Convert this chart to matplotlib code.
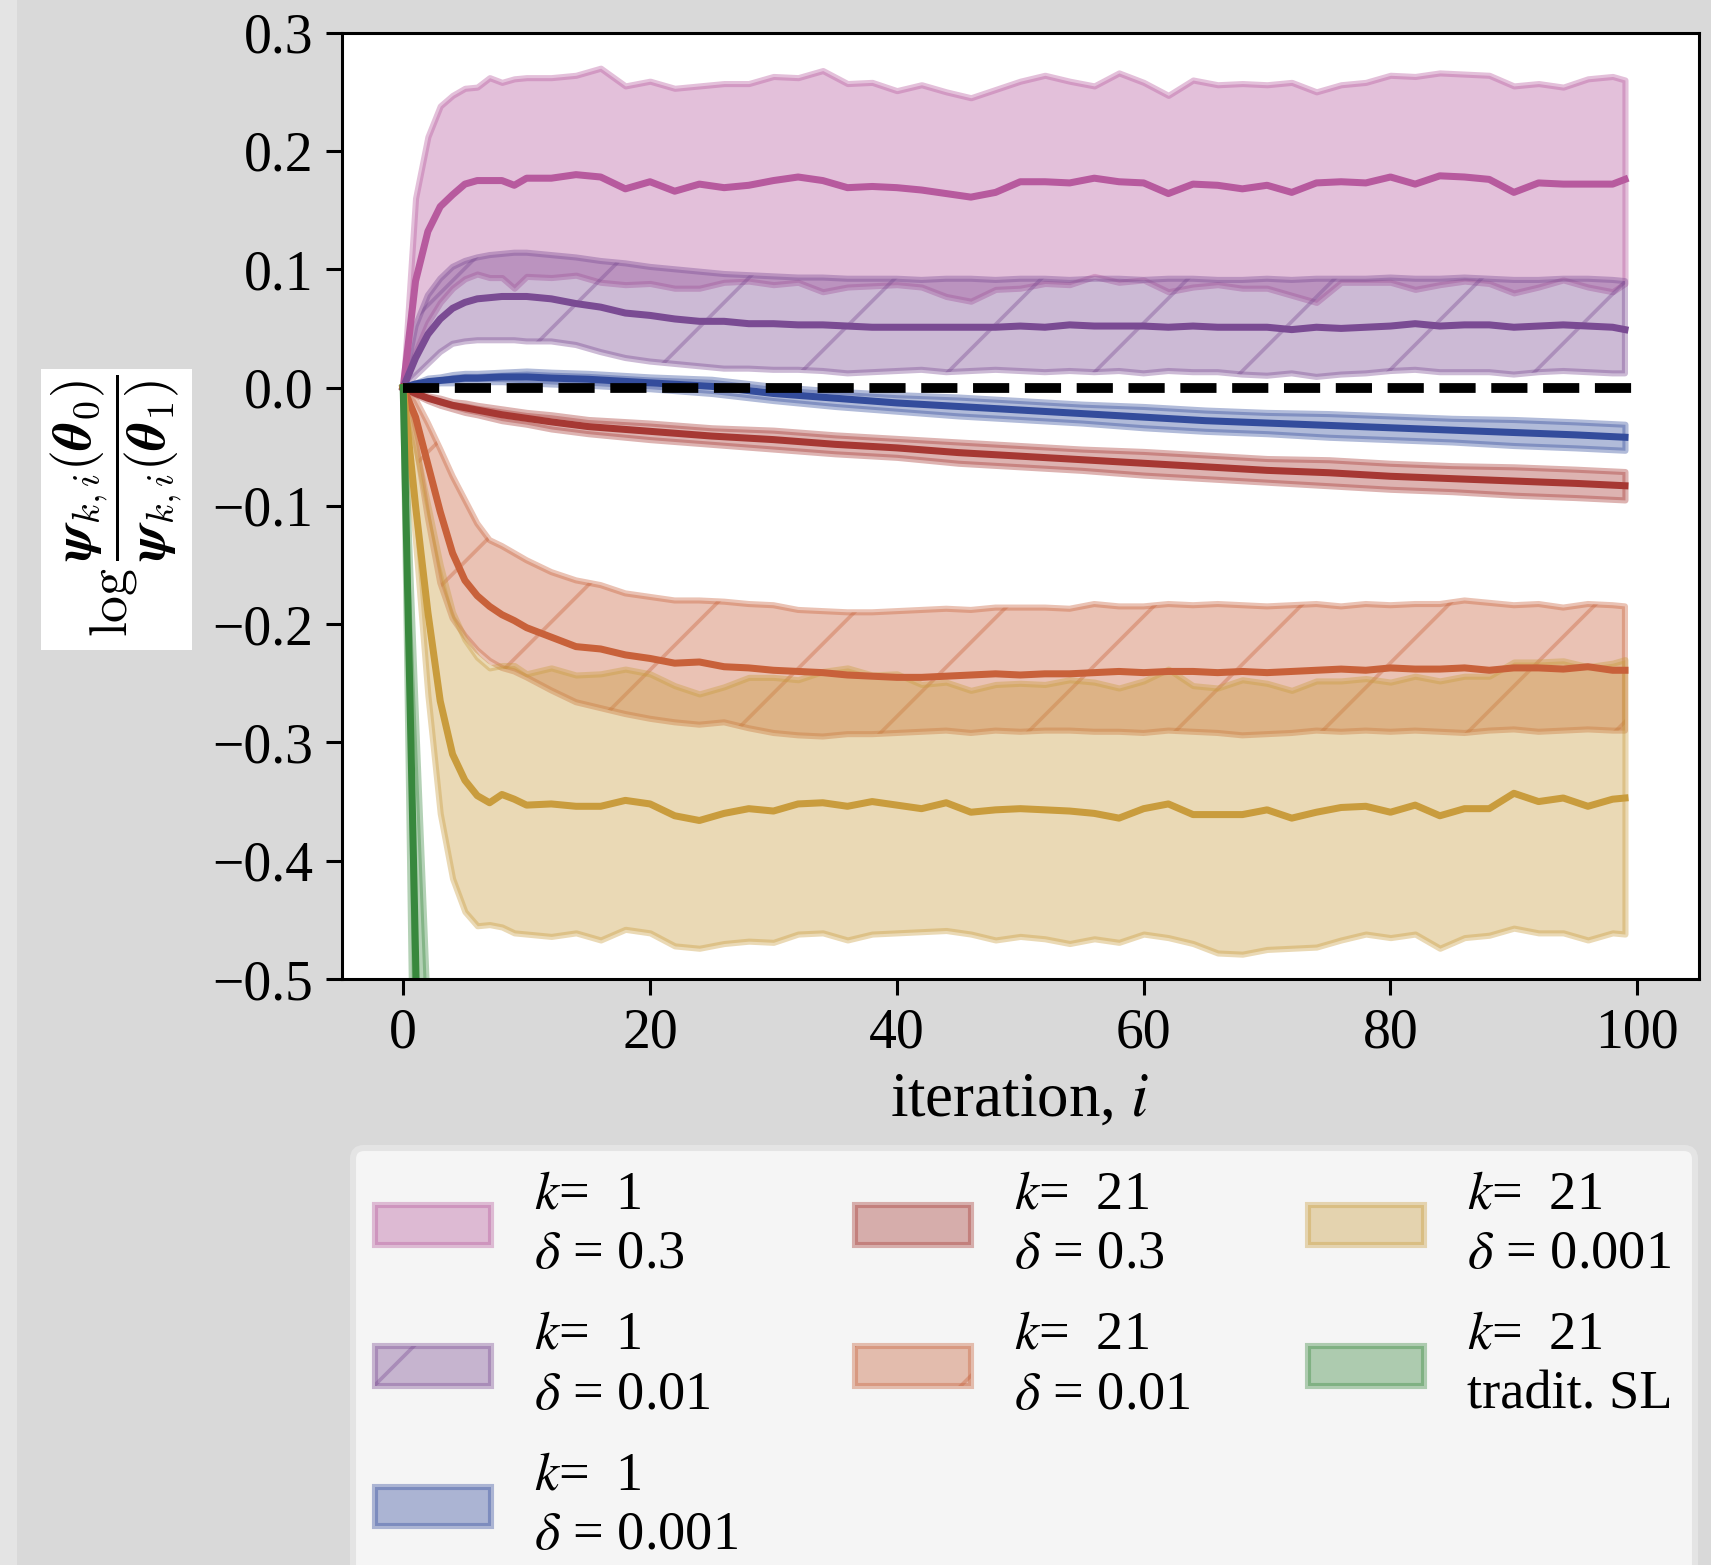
import numpy as np
import matplotlib
matplotlib.use("Agg")
import matplotlib.pyplot as plt
from matplotlib.patches import Rectangle

# iterations used for the noisy runs
iters = [0, 1, 2, 3, 4, 5, 6, 7, 8, 9, 10, 12, 14, 16, 18, 20, 22, 24, 26, 28,
         30, 32, 34, 36, 38, 40, 42, 44, 46, 48, 50, 52, 54, 56, 58, 60, 62, 64,
         66, 68, 70, 72, 74, 76, 78, 80, 82, 84, 86, 88, 90, 92, 94, 96, 98, 99]
# iterations used for the smooth runs
iters_smooth = [0, 1, 2, 3, 4, 5, 6, 8, 10, 12, 15, 20, 25, 30, 35, 40, 45, 50,
                55, 60, 65, 70, 75, 80, 85, 90, 95, 99]
iters_green = [0, 1, 2, 3, 4, 5]

# k=1, delta=0.3
k1_d03_mean = [0, 0.090, 0.132, 0.153, 0.163, 0.172, 0.175, 0.175, 0.175, 0.171, 0.177,
               0.177, 0.180, 0.178, 0.168, 0.174, 0.166, 0.172, 0.169, 0.171, 0.175,
               0.178, 0.175, 0.169, 0.170, 0.169, 0.167, 0.164, 0.161, 0.165, 0.174,
               0.174, 0.173, 0.177, 0.174, 0.173, 0.164, 0.172, 0.171, 0.168, 0.171,
               0.165, 0.173, 0.174, 0.173, 0.178, 0.172, 0.179, 0.178, 0.176, 0.165,
               0.173, 0.172, 0.172, 0.172, 0.176]
k1_d03_hi = [0, 0.160, 0.212, 0.238, 0.247, 0.253, 0.254, 0.262, 0.258, 0.261, 0.262,
             0.262, 0.264, 0.270, 0.255, 0.259, 0.253, 0.255, 0.257, 0.257, 0.263,
             0.262, 0.268, 0.257, 0.258, 0.251, 0.256, 0.250, 0.245, 0.252, 0.259,
             0.264, 0.259, 0.255, 0.266, 0.258, 0.247, 0.260, 0.256, 0.257, 0.256,
             0.258, 0.250, 0.256, 0.258, 0.264, 0.263, 0.266, 0.265, 0.264, 0.255,
             0.257, 0.254, 0.261, 0.263, 0.260]
k1_d03_lo = [0, 0.030, 0.055, 0.072, 0.084, 0.092, 0.096, 0.093, 0.093, 0.084, 0.094,
             0.093, 0.095, 0.089, 0.087, 0.088, 0.084, 0.084, 0.089, 0.090, 0.087,
             0.089, 0.081, 0.085, 0.086, 0.087, 0.085, 0.077, 0.073, 0.083, 0.084,
             0.088, 0.087, 0.094, 0.089, 0.091, 0.081, 0.085, 0.087, 0.084, 0.084,
             0.078, 0.072, 0.089, 0.089, 0.089, 0.083, 0.087, 0.090, 0.088, 0.080,
             0.085, 0.091, 0.085, 0.081, 0.088]

# k=1, delta=0.01
k1_d001_mean = [0, 0.025, 0.045, 0.058, 0.067, 0.072, 0.075, 0.076, 0.077, 0.077, 0.077,
                0.075, 0.071, 0.068, 0.063, 0.061, 0.058, 0.056, 0.056, 0.054, 0.054,
                0.053, 0.053, 0.052, 0.051, 0.051, 0.051, 0.051, 0.051, 0.051, 0.052,
                0.051, 0.053, 0.052, 0.052, 0.052, 0.051, 0.052, 0.051, 0.051, 0.051,
                0.049, 0.051, 0.050, 0.051, 0.052, 0.054, 0.052, 0.053, 0.053, 0.051,
                0.052, 0.053, 0.052, 0.051, 0.049]
k1_d001_hi = [0, 0.052, 0.078, 0.092, 0.102, 0.107, 0.110, 0.112, 0.113, 0.114, 0.114,
              0.112, 0.110, 0.107, 0.105, 0.102, 0.100, 0.098, 0.096, 0.095, 0.094,
              0.093, 0.093, 0.092, 0.092, 0.092, 0.091, 0.092, 0.092, 0.091, 0.092,
              0.092, 0.091, 0.092, 0.092, 0.091, 0.092, 0.092, 0.091, 0.091, 0.092,
              0.091, 0.092, 0.092, 0.092, 0.093, 0.092, 0.092, 0.093, 0.092, 0.091,
              0.091, 0.092, 0.092, 0.091, 0.090]
k1_d001_lo = [0, 0.010, 0.020, 0.030, 0.037, 0.039, 0.040, 0.040, 0.040, 0.040, 0.039,
              0.039, 0.036, 0.030, 0.025, 0.022, 0.020, 0.018, 0.016, 0.016, 0.015,
              0.015, 0.014, 0.012, 0.013, 0.014, 0.015, 0.013, 0.014, 0.015, 0.014,
              0.013, 0.014, 0.013, 0.014, 0.012, 0.014, 0.013, 0.013, 0.011, 0.010,
              0.012, 0.009, 0.011, 0.012, 0.014, 0.015, 0.013, 0.013, 0.013, 0.011,
              0.013, 0.014, 0.013, 0.012, 0.012]

# k=1, delta=0.001 (smooth)
k1_d0001_mean = [0, 0.003, 0.005, 0.006, 0.007, 0.008, 0.008, 0.009, 0.009, 0.008,
                 0.007, 0.004, 0.001, -0.005, -0.009, -0.013, -0.016, -0.019, -0.022,
                 -0.025, -0.028, -0.030, -0.032, -0.034, -0.036, -0.038, -0.040, -0.042]
k1_d0001_hi = [0, 0.004, 0.008, 0.009, 0.011, 0.012, 0.012, 0.013, 0.014, 0.013,
               0.012, 0.009, 0.007, 0.001, -0.003, -0.006, -0.008, -0.011, -0.014,
               -0.016, -0.019, -0.021, -0.022, -0.024, -0.026, -0.027, -0.029, -0.031]
k1_d0001_lo = [0, 0.002, 0.003, 0.004, 0.004, 0.005, 0.005, 0.005, 0.004, 0.003,
               0.002, -0.001, -0.005, -0.011, -0.016, -0.020, -0.024, -0.027, -0.030,
               -0.034, -0.037, -0.039, -0.042, -0.044, -0.046, -0.049, -0.051, -0.053]

# k=21, delta=0.3 (smooth)
k21_d03_mean = [0, -0.005, -0.009, -0.012, -0.015, -0.017, -0.019, -0.023, -0.026,
                -0.029, -0.033, -0.037, -0.041, -0.044, -0.048, -0.051, -0.055, -0.058,
                -0.061, -0.064, -0.067, -0.070, -0.072, -0.075, -0.077, -0.079, -0.081,
                -0.083]
k21_d03_hi = [0, -0.004, -0.007, -0.009, -0.012, -0.013, -0.015, -0.018, -0.021,
              -0.023, -0.027, -0.030, -0.034, -0.036, -0.040, -0.043, -0.046, -0.049,
              -0.052, -0.054, -0.057, -0.060, -0.061, -0.064, -0.066, -0.067, -0.069,
              -0.071]
k21_d03_lo = [0, -0.006, -0.011, -0.015, -0.018, -0.021, -0.023, -0.028, -0.031,
              -0.035, -0.039, -0.044, -0.048, -0.052, -0.056, -0.059, -0.064, -0.067,
              -0.070, -0.074, -0.077, -0.080, -0.083, -0.086, -0.088, -0.091, -0.093,
              -0.095]

# k=21, delta=0.01
k21_d001_mean = [0, -0.025, -0.065, -0.105, -0.140, -0.163, -0.176, -0.185, -0.192, -0.197,
                 -0.203, -0.211, -0.219, -0.221, -0.226, -0.229, -0.233, -0.232, -0.236,
                 -0.237, -0.239, -0.240, -0.241, -0.243, -0.244, -0.245, -0.245, -0.244,
                 -0.243, -0.242, -0.243, -0.242, -0.242, -0.241, -0.240, -0.241, -0.240,
                 -0.240, -0.241, -0.240, -0.241, -0.240, -0.239, -0.238, -0.239, -0.237,
                 -0.238, -0.238, -0.237, -0.239, -0.237, -0.237, -0.238, -0.236, -0.239,
                 -0.239]
k21_d001_hi = [0, -0.010, -0.030, -0.052, -0.075, -0.095, -0.115, -0.129, -0.134, -0.140,
               -0.146, -0.156, -0.163, -0.167, -0.174, -0.177, -0.180, -0.180, -0.181,
               -0.183, -0.184, -0.188, -0.189, -0.190, -0.190, -0.189, -0.188, -0.187,
               -0.188, -0.186, -0.186, -0.186, -0.187, -0.183, -0.185, -0.185, -0.183,
               -0.184, -0.183, -0.184, -0.185, -0.184, -0.183, -0.185, -0.183, -0.184,
               -0.183, -0.183, -0.180, -0.182, -0.184, -0.183, -0.186, -0.183, -0.184,
               -0.185]
k21_d001_lo = [0, -0.045, -0.110, -0.165, -0.195, -0.210, -0.222, -0.231, -0.237, -0.240,
               -0.245, -0.256, -0.266, -0.271, -0.276, -0.280, -0.283, -0.285, -0.283,
               -0.288, -0.292, -0.294, -0.295, -0.293, -0.293, -0.292, -0.291, -0.290,
               -0.292, -0.290, -0.291, -0.290, -0.290, -0.291, -0.291, -0.292, -0.290,
               -0.291, -0.292, -0.294, -0.293, -0.292, -0.290, -0.291, -0.290, -0.291,
               -0.290, -0.291, -0.292, -0.290, -0.289, -0.291, -0.290, -0.289, -0.290,
               -0.290]

# k=21, delta=0.001
k21_d0001_mean = [0, -0.100, -0.190, -0.265, -0.310, -0.332, -0.345, -0.351, -0.344, -0.348,
                  -0.353, -0.352, -0.354, -0.354, -0.349, -0.352, -0.362, -0.366, -0.360,
                  -0.356, -0.358, -0.352, -0.351, -0.354, -0.350, -0.353, -0.356, -0.351,
                  -0.359, -0.357, -0.356, -0.357, -0.358, -0.360, -0.364, -0.356, -0.352,
                  -0.361, -0.361, -0.361, -0.357, -0.364, -0.359, -0.355, -0.354, -0.359,
                  -0.353, -0.362, -0.356, -0.356, -0.343, -0.350, -0.347, -0.354, -0.348,
                  -0.347]
k21_d0001_hi = [0, -0.050, -0.100, -0.150, -0.190, -0.213, -0.228, -0.237, -0.235, -0.235,
                -0.242, -0.237, -0.243, -0.242, -0.238, -0.242, -0.252, -0.259, -0.253,
                -0.245, -0.245, -0.247, -0.240, -0.237, -0.243, -0.242, -0.251, -0.249,
                -0.256, -0.251, -0.250, -0.251, -0.247, -0.249, -0.254, -0.248, -0.238,
                -0.252, -0.254, -0.247, -0.250, -0.256, -0.248, -0.248, -0.246, -0.249,
                -0.244, -0.248, -0.244, -0.244, -0.232, -0.232, -0.231, -0.236, -0.233,
                -0.230]
k21_d0001_lo = [0, -0.130, -0.260, -0.360, -0.415, -0.443, -0.455, -0.454, -0.456, -0.461,
                -0.462, -0.464, -0.461, -0.467, -0.458, -0.461, -0.472, -0.474, -0.470,
                -0.468, -0.469, -0.462, -0.461, -0.467, -0.462, -0.461, -0.460, -0.459,
                -0.462, -0.467, -0.464, -0.466, -0.470, -0.466, -0.469, -0.462, -0.465,
                -0.470, -0.478, -0.479, -0.475, -0.474, -0.473, -0.467, -0.462, -0.465,
                -0.462, -0.474, -0.465, -0.463, -0.457, -0.461, -0.461, -0.467, -0.461,
                -0.462]

# k=21, traditional SL
k21_sl_mean = [0, -0.48, -0.96, -1.42, -1.88, -2.30]
k21_sl_hi = [0, -0.27, -0.53, -0.79, -1.05, -1.30]
k21_sl_lo = [0, -0.72, -1.40, -2.05, -2.70, -3.30]

baseline_x = [0, 100]
baseline_y = [0, 0]

labels = ["$k$=  1\n$\\delta$ = 0.3", "$k$=  1\n$\\delta$ = 0.01", "$k$=  1\n$\\delta$ = 0.001",
          "$k$=  21\n$\\delta$ = 0.3", "$k$=  21\n$\\delta$ = 0.01",
          "$k$=  21\n$\\delta$ = 0.001", "$k$=  21\ntradit. SL"]

plt.rcParams['font.family'] = 'serif'
plt.rcParams['font.serif'] = ['Liberation Serif', 'DejaVu Serif']
plt.rcParams['mathtext.fontset'] = 'stix'
plt.rcParams['hatch.linewidth'] = 0.6

DPI = 440
fig = plt.figure(figsize=(1711 / DPI, 1565 / DPI), dpi=DPI, facecolor='#d9d9d9')
fig.patches.append(Rectangle((0, 0), 17 / 1711, 1, transform=fig.transFigure,
                             facecolor='#e4e4e4', edgecolor='none', zorder=-1))

ax = fig.add_axes([341.5 / 1711, 1 - 979 / 1565, 1357.5 / 1711, 946.3 / 1565])

series = [
    (iters, k1_d03_mean, k1_d03_lo, k1_d03_hi, '#b75a9e', None),
    (iters, k1_d001_mean, k1_d001_lo, k1_d001_hi, '#7a4b93', '/'),
    (iters_smooth, k1_d0001_mean, k1_d0001_lo, k1_d0001_hi, '#334c9c', None),
    (iters_smooth, k21_d03_mean, k21_d03_lo, k21_d03_hi, '#a63833', None),
    (iters, k21_d001_mean, k21_d001_lo, k21_d001_hi, '#c8613a', '/'),
    (iters, k21_d0001_mean, k21_d0001_lo, k21_d0001_hi, '#c99c3d', None),
    (iters_green, k21_sl_mean, k21_sl_lo, k21_sl_hi, '#38883d', None),
]

handles = []
for xs, m, lo, hi, c, hatch in series:
    h = ax.fill_between(xs, lo, hi, facecolor=c, edgecolor=c, alpha=0.38,
                        linewidth=1.0, hatch=hatch)
    ax.plot(xs, m, color=c, lw=1.15)
    handles.append(h)

ax.plot(baseline_x, baseline_y, 'k--', lw=1.6, zorder=5)

ax.set_xlim(-5, 105)
ax.set_ylim(-0.5, 0.3)
ax.set_xticks([0, 20, 40, 60, 80, 100])
ax.set_yticks(np.arange(-0.5, 0.31, 0.1))
ax.tick_params(labelsize=9.1, length=2.6, width=0.5, pad=2)
for s in ax.spines.values():
    s.set_linewidth(0.5)
ax.set_xlabel('iteration, $i$', fontsize=10.3, labelpad=2)

# y label sits in its own white box
fig.patches.append(Rectangle((41 / 1711, 1 - 650 / 1565), 151 / 1711, 281 / 1565,
                             transform=fig.transFigure, facecolor='white',
                             edgecolor='none'))
fig.text(117 / 1711, 1 - 506 / 1565,
         r'$\log\dfrac{\boldsymbol{\psi}_{k,i}(\boldsymbol{\theta}_0)}'
         r'{\boldsymbol{\psi}_{k,i}(\boldsymbol{\theta}_1)}$',
         rotation=90, ha='center', va='center', fontsize=8.8, math_fontfamily='cm')

leg = fig.legend(handles, labels, loc='upper left', ncol=3,
                 bbox_to_anchor=(353 / 1711, 1 - 1148 / 1565), borderaxespad=0,
                 fontsize=8.9, frameon=True, fancybox=True, facecolor='#f5f5f5',
                 edgecolor='#e4e4e4', framealpha=1, borderpad=0.4,
                 handlelength=2.13, handleheight=0.75, handletextpad=0.8,
                 columnspacing=2.15, labelspacing=0.55)
for t in leg.get_texts():
    t.set_linespacing(1.25)

fig.savefig('out.png', dpi=DPI, facecolor=fig.get_facecolor())
